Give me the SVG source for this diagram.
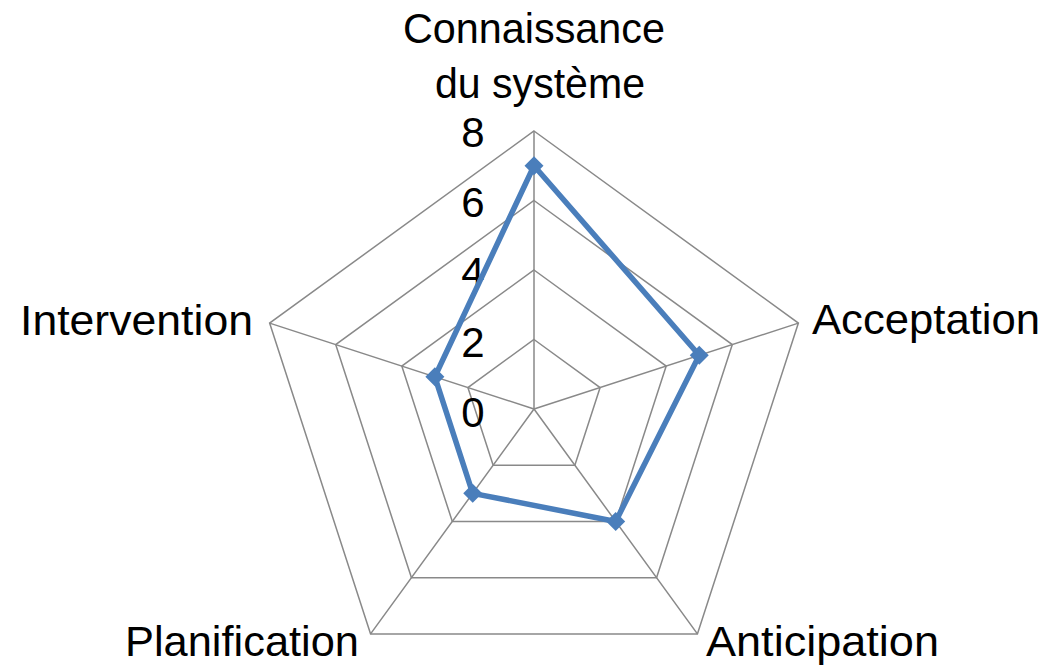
<svg xmlns="http://www.w3.org/2000/svg" width="1047" height="667" viewBox="0 0 1047 667">
<style>
.grid{fill:none;stroke:#898989;stroke-width:1.5}
.series{fill:none;stroke:#4a7ebb;stroke-width:5.5;stroke-linejoin:round}
.mk{fill:#4a7ebb}
text{font-family:"Liberation Sans",Arial,sans-serif;font-size:42px;fill:#000}
.tick{text-anchor:middle}
</style>
<defs>
<path id="dia" d="M0,-9.5 L9.5,0 L0,9.5 L-9.5,0 Z"/>
</defs>
<rect width="1047" height="667" fill="#fff"/>
<g id="grid">
<polygon class="grid" points="534,339.5 600.1,387.52 574.85,465.23 493.15,465.23 467.9,387.52"/>
<polygon class="grid" points="534,270 666.2,366.05 615.7,521.45 452.3,521.45 401.8,366.05"/>
<polygon class="grid" points="534,200.5 732.3,344.57 656.55,577.68 411.45,577.68 335.7,344.57"/>
<polygon class="grid" points="534,131 798.39,323.09 697.41,633.91 370.59,633.91 269.61,323.09"/>
<path class="grid" d="M534,409 L534,131 M534,409 L798.39,323.09 M534,409 L697.41,633.91 M534,409 L370.59,633.91 M534,409 L269.61,323.09"/>
</g>
<g id="ticks">
<text class="tick" x="473" y="147">8</text>
<text class="tick" x="473" y="217">6</text>
<text class="tick" x="473" y="287">4</text>
<text class="tick" x="473" y="357">2</text>
<text class="tick" x="473" y="427">0</text>
</g>
<g id="series">
<polygon class="series" points="534,165.75 699.25,355.31 615.7,521.45 472.72,493.34 434.85,376.78"/>
<use href="#dia" class="mk" x="534" y="165.75"/>
<use href="#dia" class="mk" x="699.25" y="355.31"/>
<use href="#dia" class="mk" x="615.7" y="521.45"/>
<use href="#dia" class="mk" x="472.72" y="493.34"/>
<use href="#dia" class="mk" x="434.85" y="376.78"/>
</g>
<g id="label-connaissance">
<text x="403" y="43" textLength="262" lengthAdjust="spacingAndGlyphs">Connaissance</text>
<text x="435" y="98" textLength="210" lengthAdjust="spacingAndGlyphs">du système</text>
</g>
<g id="label-acceptation"><text x="812" y="334" textLength="228" lengthAdjust="spacingAndGlyphs">Acceptation</text></g>
<g id="label-anticipation"><text x="706" y="656" textLength="233" lengthAdjust="spacingAndGlyphs">Anticipation</text></g>
<g id="label-planification"><text x="125" y="656" textLength="234" lengthAdjust="spacingAndGlyphs">Planification</text></g>
<g id="label-intervention"><text x="20" y="335" textLength="233" lengthAdjust="spacingAndGlyphs">Intervention</text></g>
</svg>
